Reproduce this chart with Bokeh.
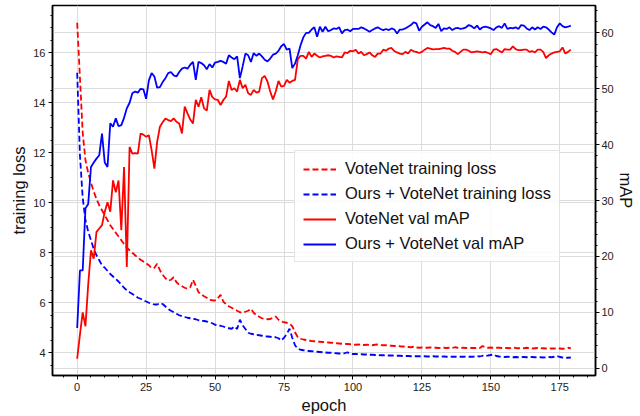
from bokeh.plotting import figure
from bokeh.models import (Range1d, LinearAxis, SingleIntervalTicker, Grid, Legend,
                          LegendItem, ColumnDataSource)
from bokeh.embed import file_html
from bokeh.resources import INLINE

epochs = list(range(180))

votenet_loss = [
    17.2, 15.0, 12.8, 11.7, 11.2, 10.8, 10.45, 10.15, 9.9, 9.7,
    9.5, 9.3, 9.1, 8.95, 8.8, 8.65, 8.5, 8.35, 8.2, 8.1,
    8.0, 7.9, 7.8, 7.72, 7.65, 7.58, 7.5, 7.38, 7.4, 7.56,
    7.3, 7.12, 6.98, 6.88, 6.92, 7.02, 6.82, 6.72, 6.66, 6.6,
    6.56, 6.62, 6.92, 6.68, 6.42, 6.34, 6.26, 6.2, 6.12, 6.1,
    6.09, 6.18, 6.32, 6.04, 5.94, 5.86, 5.8, 5.74, 5.68, 5.62,
    5.6, 5.64, 5.68, 5.76, 5.6, 5.5, 5.44, 5.38, 5.35, 5.34,
    5.35, 5.4, 5.45, 5.32, 5.25, 5.22, 5.2, 5.16, 5.06, 4.82,
    4.62, 4.56, 4.53, 4.51, 4.49, 4.47, 4.46, 4.45, 4.44, 4.43,
    4.42, 4.41, 4.40, 4.39, 4.38, 4.37, 4.36, 4.36, 4.35, 4.34,
    4.33, 4.32, 4.33, 4.32, 4.31, 4.32, 4.31, 4.30, 4.32, 4.33,
    4.31, 4.30, 4.30, 4.29, 4.28, 4.27, 4.28, 4.26, 4.25, 4.24,
    4.23, 4.22, 4.24, 4.21, 4.20, 4.21, 4.20, 4.20, 4.21, 4.20,
    4.20, 4.19, 4.20, 4.20, 4.19, 4.20, 4.19, 4.22, 4.20, 4.19,
    4.20, 4.19, 4.20, 4.19, 4.19, 4.20, 4.19, 4.27, 4.22, 4.20,
    4.21, 4.19, 4.20, 4.20, 4.19, 4.20, 4.19, 4.18, 4.21, 4.19,
    4.18, 4.19, 4.18, 4.20, 4.18, 4.17, 4.18, 4.19, 4.17, 4.18,
    4.17, 4.18, 4.17, 4.17, 4.18, 4.17, 4.16, 4.17, 4.20, 4.18,
]

ours_loss = [
    15.2, 11.9, 10.2, 9.3, 8.85, 8.5, 8.15, 7.9, 7.7, 7.5,
    7.4, 7.28, 7.15, 7.05, 6.95, 6.85, 6.72, 6.6, 6.5, 6.42,
    6.35, 6.28, 6.2, 6.16, 6.1, 6.05, 6.0, 5.96, 5.93, 5.93,
    5.98, 5.95, 5.85, 5.75, 5.68, 5.62, 5.56, 5.5, 5.46, 5.43,
    5.4, 5.38, 5.36, 5.34, 5.3, 5.28, 5.27, 5.25, 5.22, 5.18,
    5.12, 5.1, 5.08, 5.05, 5.0, 4.98, 4.96, 5.05, 4.95, 5.32,
    5.1, 4.95, 4.8, 4.76, 4.74, 4.72, 4.7, 4.68, 4.66, 4.65,
    4.64, 4.62, 4.62, 4.58, 4.49, 4.6, 4.75, 4.96, 4.6, 4.3,
    4.16, 4.12, 4.1, 4.08, 4.07, 4.06, 4.05, 4.04, 4.03, 4.02,
    4.01, 4.0, 4.00, 3.99, 3.98, 3.97, 3.97, 3.98, 4.02, 3.96,
    3.95, 3.95, 3.94, 3.94, 3.93, 3.93, 3.92, 3.92, 3.91, 3.91,
    3.90, 3.90, 3.89, 3.89, 3.89, 3.88, 3.88, 3.88, 3.87, 3.87,
    3.87, 3.86, 3.86, 3.86, 3.86, 3.85, 3.86, 3.85, 3.85, 3.86,
    3.85, 3.85, 3.84, 3.85, 3.84, 3.85, 3.84, 3.84, 3.85, 3.84,
    3.84, 3.85, 3.84, 3.84, 3.85, 3.87, 3.85, 3.88, 3.86, 3.89,
    3.91, 3.93, 3.87, 3.85, 3.84, 3.83, 3.84, 3.83, 3.82, 3.83,
    3.82, 3.82, 3.83, 3.82, 3.82, 3.83, 3.82, 3.81, 3.82, 3.81,
    3.82, 3.83, 3.82, 3.84, 3.87, 3.83, 3.81, 3.80, 3.80, 3.81,
]

votenet_map = [
    1.7, 6.0, 10.0, 7.5, 15.0, 21.1, 19.6, 24.4, 25.0, 25.6,
    28.0, 29.7, 28.0, 33.6, 31.5, 33.6, 24.7, 36.0, 18.1, 39.6,
    38.4, 38.5, 38.4, 42.0, 41.8, 41.4, 41.7, 39.0, 35.7, 40.5,
    43.2, 44.0, 44.7, 44.4, 44.2, 44.7, 44.1, 43.8, 42.0, 46.8,
    45.6, 44.5, 43.8, 48.0, 46.8, 48.5, 46.5, 46.1, 49.8, 48.5,
    48.1, 48.0, 47.1, 48.0, 48.6, 51.4, 49.8, 50.1, 49.5, 51.6,
    50.1, 50.7, 49.2, 48.9, 49.8, 49.3, 49.5, 51.9, 52.3, 51.3,
    49.5, 48.1, 49.5, 51.4, 50.4, 50.5, 51.6, 51.1, 51.4, 51.6,
    55.3, 55.9, 55.9, 55.4, 56.6, 55.7, 56.3, 55.9, 55.6, 55.8,
    55.9, 56.0, 55.9, 55.6, 55.8, 55.7, 55.6, 56.5, 56.4, 56.8,
    56.7, 57.0, 56.3, 56.6, 56.0, 56.2, 56.5, 56.0, 55.7, 56.3,
    56.3, 57.0, 56.8, 57.2, 57.3, 56.75, 56.5, 56.3, 56.2, 56.6,
    56.3, 57.0, 56.7, 56.6, 56.4, 56.6, 57.0, 57.3, 57.2, 57.05,
    57.1, 57.1, 57.2, 57.3, 57.2, 57.2, 56.8, 56.6, 56.2, 56.6,
    57.0, 57.0, 56.8, 56.5, 56.6, 56.7, 56.6, 56.5, 56.6, 56.4,
    56.2, 57.0, 57.1, 56.8, 56.5, 57.1, 57.0, 57.0, 57.6, 57.1,
    56.9, 56.9, 57.0, 57.0, 56.6, 56.75, 56.5, 57.0, 57.0, 56.6,
    55.5, 56.0, 56.3, 56.5, 56.6, 56.7, 57.4, 56.3, 56.6, 57.0,
]

ours_map = [
    7.2, 17.5, 17.5, 28.6, 29.4, 36.0, 36.8, 37.5, 38.1, 42.0,
    36.8, 36.0, 43.8, 43.2, 44.7, 43.3, 43.5, 44.8, 46.5, 47.5,
    49.2, 49.5, 49.3, 50.0, 49.9, 48.2, 51.5, 52.8, 52.2, 50.2,
    50.3, 51.2, 51.9, 52.8, 53.0, 52.4, 52.2, 53.0, 53.6, 53.8,
    53.6, 54.3, 54.8, 51.6, 54.8, 54.6, 54.2, 53.5, 54.4, 53.8,
    54.7, 54.8, 55.0, 54.8, 54.5, 56.0, 55.6, 55.3, 55.8, 51.9,
    54.0, 56.3, 56.0, 54.8, 56.4, 55.9, 56.3, 55.8, 55.2, 54.9,
    55.4, 56.1, 56.3, 56.8, 57.6, 58.0, 57.0, 57.2, 53.7, 54.5,
    56.0, 57.8, 59.2, 60.0, 60.0, 60.6, 61.0, 59.3, 61.1, 60.2,
    61.1, 60.3, 60.5, 60.8, 60.7, 61.0, 59.9, 60.5, 60.6, 60.3,
    60.7, 60.7, 60.7, 61.0, 60.8, 60.5, 60.2, 60.5, 60.8, 61.0,
    60.7, 60.5, 60.7, 60.5, 60.8, 60.6, 59.9, 60.6, 60.6, 60.8,
    61.1, 61.4, 61.9, 61.7, 60.4, 61.1, 61.5, 61.9, 61.4, 61.2,
    60.9, 61.6, 60.3, 60.8, 60.7, 61.0, 60.5, 60.8, 60.9, 60.7,
    60.8, 61.0, 61.4, 61.2, 60.8, 61.3, 60.6, 61.0, 61.1, 61.0,
    60.8, 60.5, 61.0, 61.2, 60.9, 61.7, 60.7, 60.9, 60.8, 61.0,
    60.7, 61.4, 61.3, 60.8, 60.5, 61.0, 60.6, 61.0, 60.7, 61.1,
    61.0, 60.6, 60.1, 59.7, 61.0, 61.7, 61.2, 61.0, 61.1, 61.3,
]

series_labels = ["VoteNet training loss", "Ours + VoteNet training loss",
                 "VoteNet val mAP", "Ours + VoteNet val mAP"]
axis_titles = ["epoch", "training loss", "mAP"]

FONT = "Liberation Sans"
GRID = "#dcdcdc"

src = ColumnDataSource(dict(epoch=epochs, vl=votenet_loss, ol=ours_loss,
                            vm=votenet_map, om=ours_map))

p = figure(width=640, height=416, output_backend="svg", toolbar_location=None,
           x_range=Range1d(-8.95, 187.95), y_range=Range1d(3.09, 17.89),
           min_border_left=52, min_border_right=45, min_border_top=5, min_border_bottom=41)
p.extra_y_ranges = {"map": Range1d(-1.3, 64.9)}

p.outline_line_color = "black"
p.outline_line_width = 1.5
p.background_fill_color = "white"
p.border_fill_color = "white"

def style_axis(ax, interval, minor, title, lab_standoff=3, title_standoff=2):
    ax.ticker = SingleIntervalTicker(interval=interval, num_minor_ticks=minor)
    ax.axis_line_color = "black"
    ax.axis_line_width = 1.5
    ax.major_tick_line_color = "black"
    ax.minor_tick_line_color = "black"
    ax.major_tick_in = 0
    ax.minor_tick_in = 0
    ax.major_tick_out = 4
    ax.minor_tick_out = 2
    ax.major_label_text_font = FONT
    ax.major_label_text_font_size = "11px"
    ax.major_label_text_color = "#222222"
    ax.major_label_standoff = lab_standoff
    ax.axis_label = title
    ax.axis_label_text_font = FONT
    ax.axis_label_text_font_size = "16.5px"
    ax.axis_label_text_font_style = "normal"
    ax.axis_label_text_color = "#111111"
    ax.axis_label_standoff = title_standoff

xa = p.xaxis[0]
style_axis(xa, 25, 5, axis_titles[0])
ya = p.yaxis[0]
style_axis(ya, 2, 4, axis_titles[1])

ra = LinearAxis(y_range_name="map")
style_axis(ra, 10, 5, axis_titles[2], lab_standoff=2, title_standoff=0)
p.add_layout(ra, "right")

p.xgrid.ticker = xa.ticker
p.ygrid.ticker = ya.ticker
p.xgrid.grid_line_color = GRID
p.ygrid.grid_line_color = GRID
g2 = Grid(dimension=1, ticker=ra.ticker, y_range_name="map", grid_line_color=GRID)
p.add_layout(g2)

r1 = p.line("epoch", "vl", source=src, line_color="#ff0000", line_width=1.8, line_dash="6 3")
r2 = p.line("epoch", "ol", source=src, line_color="#0000ff", line_width=1.8, line_dash="6 3")
r3 = p.line("epoch", "vm", source=src, line_color="#ff0000", line_width=1.8, y_range_name="map")
r4 = p.line("epoch", "om", source=src, line_color="#0000ff", line_width=1.8, y_range_name="map")

legend = Legend(items=[LegendItem(label=series_labels[0], renderers=[r1]),
                       LegendItem(label=series_labels[1], renderers=[r2]),
                       LegendItem(label=series_labels[2], renderers=[r3]),
                       LegendItem(label=series_labels[3], renderers=[r4])],
                location=(242, 113))
legend.label_text_font = FONT
legend.label_text_font_size = "16.5px"
legend.label_text_color = "#111111"
legend.glyph_width = 33
legend.glyph_height = 18
legend.label_height = 18
legend.spacing = 6
legend.padding = 8
legend.margin = 0
legend.label_standoff = 9
legend.border_line_color = "#cccccc"
legend.border_line_width = 1
legend.background_fill_alpha = 0.85
p.add_layout(legend, "center")

open("out.html", "w").write(file_html(p, INLINE))
